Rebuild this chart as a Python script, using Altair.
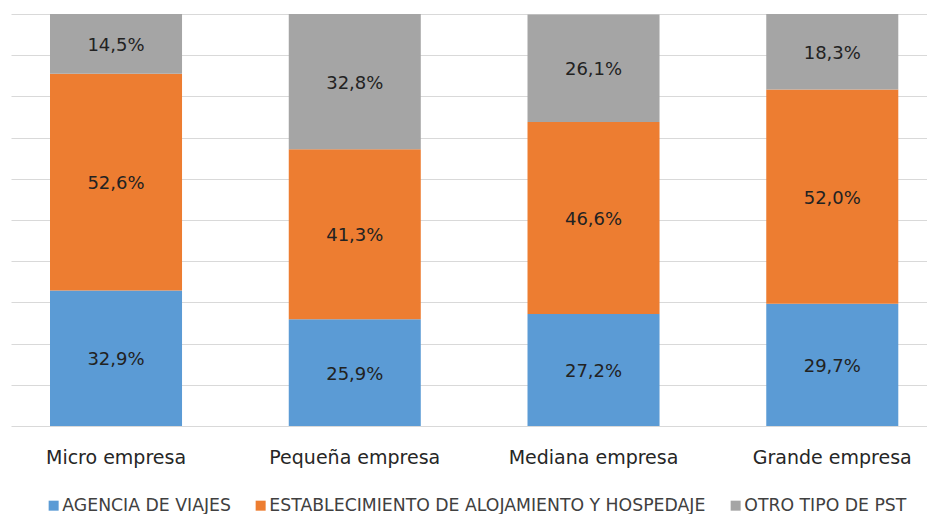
import altair as alt
import pandas as pd

categories = ["Micro empresa", "Pequeña empresa", "Mediana empresa", "Grande empresa"]
series = ["AGENCIA DE VIAJES", "ESTABLECIMIENTO DE ALOJAMIENTO Y HOSPEDAJE", "OTRO TIPO DE PST"]
agencia = [32.9, 25.9, 27.2, 29.7]
alojamiento = [52.6, 41.3, 46.6, 52.0]
otro = [14.5, 32.8, 26.1, 18.3]
colors = ["#5B9BD5", "#ED7D31", "#A5A5A5"]

rows = []
for si, (name, vals) in enumerate(zip(series, [agencia, alojamiento, otro])):
    for ci, cat in enumerate(categories):
        v = vals[ci]
        rows.append({
            "cat": cat,
            "serie": name,
            "idx": si,
            "value": v,
            "label": f"{v:.1f}".replace(".", ",") + "%",
        })
df = pd.DataFrame(rows)

FONT = "DejaVu Sans"

x = alt.X(
    "cat:N",
    sort=categories,
    title=None,
    scale=alt.Scale(paddingInner=0.447, paddingOuter=0.1418, align=0.576),
    axis=alt.Axis(
        domain=False, ticks=False, grid=False, labelAngle=0,
        labelFont=FONT, labelFontSize=19, labelColor="#262626",
        labelPadding=22, labelLimit=400,
    ),
)

base = alt.Chart(df).transform_stack(
    stack="value", groupby=["cat"], sort=[alt.SortField("idx", order="ascending")],
    as_=["v0", "v1"],
).transform_calculate(mid="(datum.v0 + datum.v1) / 2")

bars = base.mark_bar().encode(
    x=x,
    y=alt.Y(
        "v0:Q",
        title=None,
        scale=alt.Scale(domain=[0, 100], nice=False),
        axis=alt.Axis(
            values=[0, 10, 20, 30, 40, 50, 60, 70, 80, 90, 100],
            labels=False, ticks=False, domain=False,
            grid=True, gridColor="#D9D9D9", gridWidth=1.2,
        ),
    ),
    y2="v1:Q",
    color=alt.Color(
        "serie:N",
        scale=alt.Scale(domain=series, range=colors),
        legend=alt.Legend(
            title=None, orient="none", direction="horizontal",
            legendX=34, legendY=483,
            symbolType="square", symbolSize=100, symbolStrokeWidth=0,
            labelFont=FONT, labelFontSize=17.3, labelColor="#404040",
            labelOffset=0, columnPadding=21, labelLimit=700,
        ),
    ),
)

texts = base.mark_text(font=FONT, fontSize=18, color="#222222", dy=2).encode(
    x=alt.X("cat:N", sort=categories),
    y=alt.Y("mid:Q"),
    text="label:N",
)

chart = (bars + texts).properties(
    width=916, height=412,
    padding={"left": 3, "top": 6, "right": 0, "bottom": 0},
).configure_view(stroke=None).configure_axis(gridOpacity=1)

chart.save("out.html", embed_options={"renderer": "svg", "actions": False})
